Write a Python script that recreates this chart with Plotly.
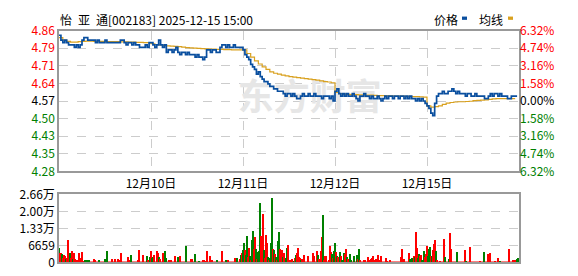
import plotly.graph_objects as go

# ---------------- data ----------------
day_labels = ["12月10日", "12月11日", "12月12日", "12月15日"]
minutes_per_day = 241
n_days = 5
prev_close = 4.57
pct_levels = [6.32, 4.74, 3.16, 1.58, 0.0, -1.58, -3.16, -4.74, -6.32]

price_d1 = [4.84,4.82,4.81,4.82,4.81,4.80,4.80,4.80,4.79,4.80,4.79,4.80,4.82,4.83,4.83,4.82,
            4.82,4.82,4.82,4.81,4.82,4.81,4.81,4.81,4.82,4.81,4.81,4.81,4.81,4.81,4.81,4.81,
            4.82,4.82,4.81,4.80,4.81,4.81,4.80,4.81,4.80,4.80,4.79,4.79,4.79,4.80,4.79,4.81]
price_d2 = [4.81,4.80,4.79,4.80,4.82,4.80,4.79,4.80,4.77,4.78,4.78,4.77,4.78,4.79,4.77,4.76,
            4.77,4.77,4.76,4.77,4.76,4.76,4.76,4.75,4.76,4.75,4.75,4.74,4.75,4.78,4.78,4.77,
            4.78,4.78,4.77,4.77,4.79,4.80,4.80,4.79,4.80,4.79,4.79,4.80,4.79,4.79,4.79,4.79]
price_d3 = [4.78,4.76,4.75,4.74,4.72,4.71,4.70,4.68,4.69,4.67,4.66,4.65,4.65,4.64,4.63,4.63,
            4.62,4.62,4.61,4.61,4.61,4.60,4.59,4.60,4.60,4.59,4.60,4.59,4.58,4.58,4.59,4.60,
            4.59,4.59,4.60,4.59,4.59,4.60,4.59,4.59,4.59,4.58,4.59,4.59,4.59,4.58,4.59,4.57]
price_d4 = [4.61,4.62,4.60,4.59,4.60,4.59,4.60,4.59,4.59,4.60,4.59,4.58,4.57,4.59,4.59,4.60,
            4.59,4.59,4.58,4.59,4.58,4.58,4.59,4.58,4.57,4.58,4.59,4.58,4.59,4.59,4.58,4.59,
            4.59,4.58,4.59,4.59,4.58,4.59,4.58,4.59,4.58,4.58,4.57,4.58,4.57,4.58,4.57,4.56]
price_d5 = [4.55,4.54,4.52,4.51,4.56,4.59,4.60,4.60,4.61,4.60,4.60,4.61,4.61,4.62,4.61,4.60,
            4.61,4.60,4.60,4.60,4.59,4.60,4.60,4.59,4.59,4.60,4.59,4.59,4.59,4.59,4.58,4.58,
            4.59,4.60,4.59,4.60,4.60,4.59,4.60,4.59,4.59,4.59,4.58,4.58,4.59,4.59,4.59,4.59]

avg_d1 = [4.830,4.820,4.815,4.812,4.812,4.814,4.815,4.816,4.816,4.815,4.815,4.815,
          4.814,4.814,4.814,4.814,4.813,4.813,4.812,4.812,4.811,4.811,4.810,4.810]
avg_d2 = [4.805,4.802,4.800,4.798,4.796,4.795,4.794,4.793,4.791,4.789,4.788,4.787,
          4.786,4.785,4.784,4.783,4.783,4.782,4.782,4.781,4.781,4.780,4.780,4.780]
avg_d3 = [4.780,4.765,4.750,4.735,4.722,4.710,4.700,4.690,4.684,4.680,4.676,4.673,
          4.670,4.668,4.666,4.664,4.662,4.660,4.658,4.656,4.653,4.650,4.648,4.645]
avg_d4 = [4.605,4.600,4.598,4.597,4.596,4.596,4.595,4.595,4.594,4.594,4.593,4.592,
          4.592,4.591,4.591,4.590,4.590,4.590,4.589,4.589,4.588,4.588,4.587,4.586]
avg_d5 = [4.550,4.545,4.547,4.550,4.556,4.561,4.564,4.566,4.567,4.567,4.568,4.569,
          4.572,4.573,4.574,4.575,4.577,4.579,4.580,4.580,4.580,4.580,4.580,4.580]

# volume: minute index, volume (hands), 1 = up (red) / 0 = down (green)
vol_minute = [0,3,5,8,10,13,16,18,21,24,26,29,31,34,37,39,42,45,47,50,52,55,58,60,63,68,73,79,92,94,
              105,121,126,139,147,155,160,162,181,183,189,207,210,220,231,233,238,241,244,246,249,257,259,262,265,272,278,280,288,293,
              304,312,317,333,346,348,356,367,377,380,382,388,396,401,414,427,438,443,461,466,474,477,479,482,485,487,490,493,495,498,
              500,503,506,508,511,513,516,519,521,524,527,529,532,534,537,540,542,545,548,550,553,556,558,561,563,566,569,571,574,576,
              579,582,584,587,590,592,595,597,600,603,608,610,616,618,621,624,626,629,631,634,637,642,652,665,668,676,679,681,686,689,
              692,694,697,700,707,710,713,716,718,720,723,726,729,731,737,739,742,747,750,752,755,758,760,763,765,773,781,784,786,789,
              799,802,810,812,817,820,823,825,830,836,841,844,857,859,867,896,899,901,904,917,919,922,925,930,933,935,938,941,943,946,
              948,951,956,959,961,964,967,969,972,975,977,980,982,985,988,990,998,1009,1011,1022,1024,1027,1043,1064,1066,1077,1103,1113,1124,1129,
              1142,1150,1155,1179,1189,1195,1200,1202]
vol_value = [5550,3450,3450,2960,1480,2590,2220,1230,1600,8510,630,3450,1480,4190,1230,3450,1000,630,260,630,3450,370,1600,3820,260,630,630,630,1230,630,
             630,1000,4190,1230,1230,1230,850,3450,2110,630,2700,630,4550,2700,2330,630,2110,4190,1600,2110,2700,4190,3450,2110,1230,3450,4190,1600,850,630,
             2330,1960,2330,6400,1230,1230,3080,480,630,850,480,4190,2330,630,630,4190,630,850,1600,1600,1230,2700,3450,4550,7510,4550,2700,10100,1960,5660,
             2330,850,8620,12320,5290,9730,4920,1230,3810,4190,23050,10100,1960,18980,4550,1600,10470,7510,1960,850,1600,7510,24900,4920,4550,3070,1960,850,8250,11950,
             5290,3810,4550,1960,3440,850,1600,5660,6770,850,850,1230,480,1600,2700,3440,5660,1960,1600,850,1230,2700,2330,3440,2330,4190,2700,1230,4190,9730,
             18610,850,2330,2330,850,6400,3810,3070,1600,4190,7510,3810,2330,1960,3810,2330,850,3440,3070,4920,1960,1230,1230,3070,850,2330,2700,1230,5290,850,
             630,630,1960,850,1230,1600,2330,850,1230,2700,850,2330,1600,480,850,1960,5290,850,1230,3440,1230,850,1600,2330,1960,11580,5660,1600,3070,2330,
             2700,850,4190,1960,3070,6400,2330,5290,6030,2330,2330,4550,7140,8620,4190,630,480,8990,1960,1230,11210,5290,3810,4550,480,6030,480,3810,3070,3440,
             480,1600,480,4920,850,850,1230,1600]
vol_up = [0,1,1,0,1,1,1,0,1,1,1,0,1,1,0,1,1,1,1,1,1,1,1,1,1,0,0,0,1,1,
          0,0,0,1,1,1,1,1,1,1,0,1,1,1,0,1,0,1,0,0,1,1,1,0,1,1,0,0,1,1,
          1,0,1,0,1,1,0,0,1,1,1,1,1,1,0,1,0,1,1,0,1,0,1,0,0,1,0,0,1,1,
          0,1,0,0,1,1,0,1,0,0,0,1,1,1,0,1,1,1,0,1,0,0,0,1,0,1,0,1,0,0,
          1,1,1,0,1,1,0,0,1,1,1,1,0,1,0,1,1,1,1,0,1,1,1,1,1,1,0,1,1,1,
          0,1,1,1,1,1,1,0,1,0,0,1,0,1,0,1,0,0,1,1,0,1,1,0,0,0,0,1,0,1,
          1,1,1,1,1,1,1,1,1,1,1,1,1,1,1,1,1,1,1,1,0,0,0,1,0,1,1,0,0,1,
          1,0,0,1,1,1,0,0,0,1,0,1,1,1,0,1,1,1,0,0,1,1,0,1,0,1,1,0,1,1,
          1,1,0,1,1,1,0,0]
vol_tickvals = [0, 6659, 13318, 19977, 26636]
vol_ticktext = ["0", "6659", "1.33万", "2.00万", "2.66万"]

title_text = "怡\u2002亚\u2002通[002183] 2025-12-15 15:00"

# ---------------- build ----------------
RED = "#ff0000"
GREEN = "#008000"
BLUE = "#0a4f9f"
GOLD = "#d9a11f"
FONT = "Noto Sans CJK SC"

def day_series(days):
    xs, ys = [], []
    for d, arr in enumerate(days):
        step = minutes_per_day / len(arr)
        for i, v in enumerate(arr):
            xs.append(d * minutes_per_day + i * step)
            ys.append(v)
    return xs, ys

px_x, px_y = day_series([price_d1, price_d2, price_d3, price_d4, price_d5])
av_x, av_y = day_series([avg_d1, avg_d2, avg_d3, avg_d4, avg_d5])
total = minutes_per_day * n_days

price_ticks = [prev_close * (1 + p / 100) for p in pct_levels]
def pcol(p):
    return RED if p > 0 else (GREEN if p < 0 else "#000000")
left_text = [f'<span style="color:{pcol(p)}">{v:.2f}</span>' for p, v in zip(pct_levels, price_ticks)]
right_text = [f'<span style="color:{pcol(p)}">{abs(p):.2f}%</span>' for p in pct_levels]

W, H = 578, 276
L, R = 59, 519
P_TOP, P_BOT = 22, 172
V_TOP, V_BOT = 196.5, 269

fig = go.Figure()

# watermark
fig.add_trace(go.Scatter(x=[total * 0.545], y=[prev_close], mode="text", text=["<b>东方财富</b>"],
                         textfont=dict(size=36, color="#e6e6e6", family=FONT), hoverinfo="skip",
                         xaxis="x", yaxis="y", showlegend=False))
fig.add_trace(go.Scatter(x=av_x, y=av_y, mode="lines", line=dict(color=GOLD, width=1.2, shape="hv"),
                         xaxis="x", yaxis="y", showlegend=False, hoverinfo="skip"))
fig.add_trace(go.Scatter(x=px_x, y=px_y, mode="lines", line=dict(color=BLUE, width=1.7, shape="hv"),
                         xaxis="x", yaxis="y", showlegend=False, hoverinfo="skip"))
fig.add_trace(go.Scatter(x=[0], y=[prev_close], mode="markers", marker=dict(opacity=0),
                         xaxis="x", yaxis="y3", showlegend=False, hoverinfo="skip"))
fig.add_trace(go.Bar(x=vol_minute, y=vol_value, width=2.6,
                     marker=dict(color=[RED if u else GREEN for u in vol_up], line=dict(width=0)),
                     xaxis="x2", yaxis="y2", showlegend=False, hoverinfo="skip"))

grid = dict(showgrid=True, gridcolor="#cccccc", griddash="dash", gridwidth=1)
box = dict(showline=True, mirror=True, linecolor="#999999", linewidth=1.5, zeroline=False)
tickfont = dict(family=FONT, size=12, color="#000000")

fig.update_layout(
    width=W, height=H, margin=dict(l=0, r=0, t=0, b=0),
    paper_bgcolor="white", plot_bgcolor="white", bargap=0,
    xaxis=dict(domain=[L / W, R / W], range=[0, total], anchor="y",
               tickvals=[minutes_per_day * k for k in range(1, n_days)], ticktext=day_labels,
               ticks="", tickfont=tickfont, **grid, **box),
    yaxis=dict(domain=[1 - P_BOT / H, 1 - P_TOP / H], range=[min(price_ticks), max(price_ticks)],
               tickvals=price_ticks, ticktext=left_text, ticks="", tickfont=tickfont, **grid, **box),
    yaxis3=dict(overlaying="y", side="right", range=[min(price_ticks), max(price_ticks)],
                tickvals=price_ticks, ticktext=right_text, ticks="", tickfont=tickfont,
                showgrid=False, showline=False, zeroline=False),
    xaxis2=dict(domain=[L / W, R / W], range=[0, total], anchor="y2", showticklabels=False,
                ticks="", showgrid=False, **box),
    yaxis2=dict(domain=[1 - V_BOT / H, 1 - V_TOP / H], range=[0, vol_tickvals[-1]],
                tickvals=vol_tickvals, ticktext=vol_ticktext, ticks="", tickfont=tickfont,
                **grid, **box),
    annotations=[
        dict(text=title_text, xref="paper", yref="paper", x=58 / W, y=1 - 10 / H,
             xanchor="left", yanchor="middle", showarrow=False,
             font=dict(family=FONT, size=12, color="#000000")),
        dict(text="价格", xref="paper", yref="paper", x=432 / W, y=1 - 10 / H,
             xanchor="left", yanchor="middle", showarrow=False,
             font=dict(family=FONT, size=12, color="#000000")),
        dict(text="均线", xref="paper", yref="paper", x=477 / W, y=1 - 10 / H,
             xanchor="left", yanchor="middle", showarrow=False,
             font=dict(family=FONT, size=12, color="#000000")),
    ],
    shapes=[
        dict(type="rect", xref="paper", yref="paper", x0=462 / W, x1=467 / W,
             y0=1 - 10.5 / H, y1=1 - 7 / H, fillcolor=BLUE, line=dict(width=0)),
        dict(type="rect", xref="paper", yref="paper", x0=508 / W, x1=513 / W,
             y0=1 - 10.5 / H, y1=1 - 7 / H, fillcolor=GOLD, line=dict(width=0)),
        dict(type="rect", xref="x2", yref="y2", x0=0, x1=total, y0=0, y1=vol_tickvals[1] * 0.05,
             fillcolor=RED, line=dict(width=0), layer="below"),
    ],
)

fig.write_html("out.html")
